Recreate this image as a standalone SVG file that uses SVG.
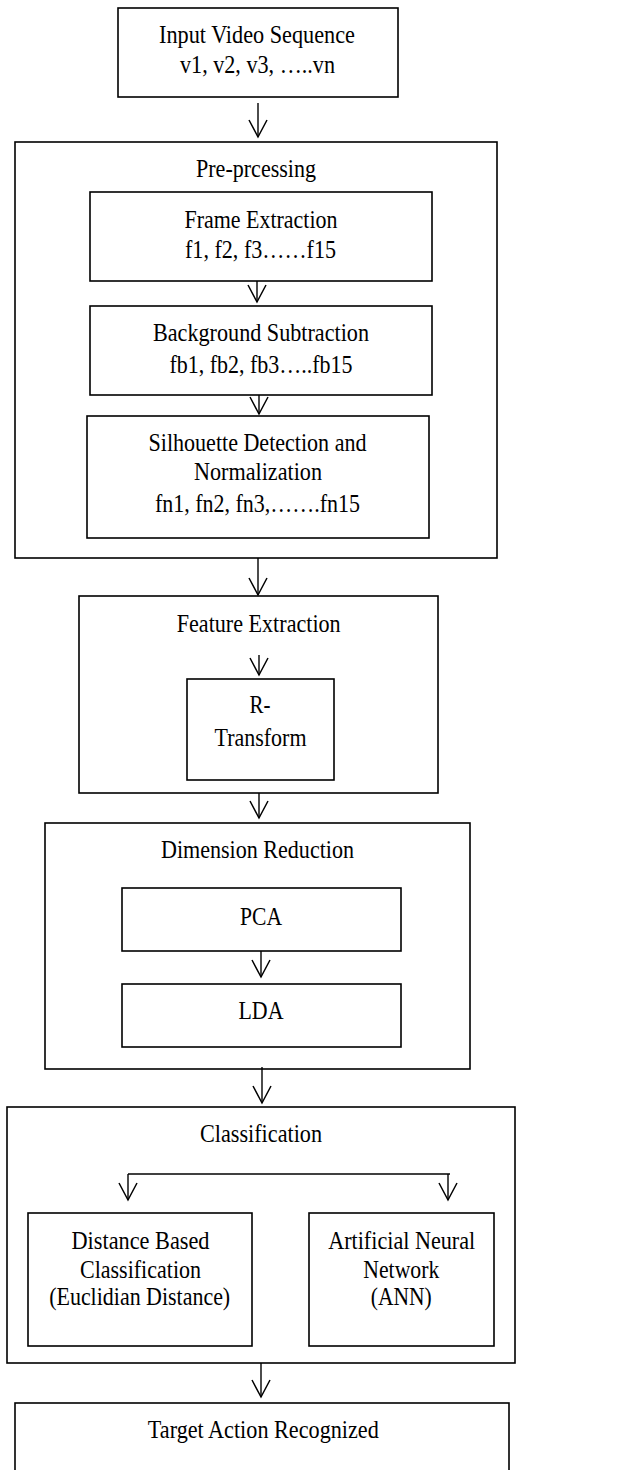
<svg xmlns="http://www.w3.org/2000/svg" width="628" height="1470" viewBox="0 0 628 1470">
<defs>
<marker id="vh" markerUnits="userSpaceOnUse" markerWidth="20" markerHeight="20" viewBox="-18 -10 20 20" refX="0" refY="0" orient="auto" overflow="visible">
<path d="M-17,-9 L0,0 L-17,9" fill="none" stroke="#000" stroke-width="1.5"/>
</marker>
</defs>
<style>
rect{fill:#fff;stroke:#000;stroke-width:1.6}
text{font-family:"Liberation Serif","Times New Roman",serif;font-size:25px;fill:#000;text-anchor:middle}
.c line,.c path{stroke:#000;stroke-width:1.4;fill:none}
</style>
<rect x="0" y="0" width="628" height="1470" style="stroke:none"/>
<g id="input">
<rect x="118" y="8" width="280" height="89"/>
<text x="257" y="43" textLength="196" lengthAdjust="spacingAndGlyphs">Input Video Sequence</text>
<text x="257.5" y="73" textLength="155" lengthAdjust="spacingAndGlyphs">v1, v2, v3, …..vn</text>
</g>
<g id="preprocessing">
<rect x="15" y="142" width="482" height="416"/>
<text x="256" y="177" textLength="120" lengthAdjust="spacingAndGlyphs">Pre-prcessing</text>
</g>
<g id="frame">
<rect x="90" y="192" width="342" height="89"/>
<text x="261" y="228" textLength="153" lengthAdjust="spacingAndGlyphs">Frame Extraction</text>
<text x="260.5" y="258" textLength="151" lengthAdjust="spacingAndGlyphs">f1, f2, f3……f15</text>
</g>
<g id="background">
<rect x="90" y="306" width="342" height="89"/>
<text x="261" y="341" textLength="216" lengthAdjust="spacingAndGlyphs">Background Subtraction</text>
<text x="261" y="373" textLength="183" lengthAdjust="spacingAndGlyphs">fb1, fb2, fb3…..fb15</text>
</g>
<g id="silhouette">
<rect x="87" y="416" width="342" height="122"/>
<text x="257.5" y="451" textLength="218" lengthAdjust="spacingAndGlyphs">Silhouette Detection and</text>
<text x="258" y="480" textLength="128" lengthAdjust="spacingAndGlyphs">Normalization</text>
<text x="257.5" y="512" textLength="205" lengthAdjust="spacingAndGlyphs">fn1, fn2, fn3,…….fn15</text>
</g>
<g id="feature">
<rect x="79" y="596" width="359" height="197"/>
<text x="258.7" y="632" textLength="164" lengthAdjust="spacingAndGlyphs">Feature Extraction</text>
</g>
<g id="rtransform">
<rect x="187" y="679" width="147" height="101"/>
<text x="260" y="713" textLength="21" lengthAdjust="spacingAndGlyphs">R-</text>
<text x="260.5" y="746" textLength="92" lengthAdjust="spacingAndGlyphs">Transform</text>
</g>
<g id="dimension">
<rect x="45" y="823" width="425" height="246"/>
<text x="257.5" y="858" textLength="193" lengthAdjust="spacingAndGlyphs">Dimension Reduction</text>
</g>
<g id="pca">
<rect x="122" y="888" width="279" height="63"/>
<text x="261" y="925" textLength="42" lengthAdjust="spacingAndGlyphs">PCA</text>
</g>
<g id="lda">
<rect x="122" y="984" width="279" height="63"/>
<text x="261" y="1019" textLength="45" lengthAdjust="spacingAndGlyphs">LDA</text>
</g>
<g id="classification">
<rect x="7" y="1107" width="508" height="256"/>
<text x="261" y="1142" textLength="122" lengthAdjust="spacingAndGlyphs">Classification</text>
</g>
<g id="distance">
<rect x="28" y="1213" width="224" height="133"/>
<text x="140.5" y="1249" textLength="138" lengthAdjust="spacingAndGlyphs">Distance Based</text>
<text x="140.5" y="1278" textLength="121" lengthAdjust="spacingAndGlyphs">Classification</text>
<text x="139.7" y="1305" textLength="181" lengthAdjust="spacingAndGlyphs">(Euclidian Distance)</text>
</g>
<g id="ann">
<rect x="309" y="1213" width="185" height="133"/>
<text x="401.7" y="1249" textLength="147" lengthAdjust="spacingAndGlyphs">Artificial Neural</text>
<text x="401.3" y="1278" textLength="76" lengthAdjust="spacingAndGlyphs">Network</text>
<text x="401.3" y="1305" textLength="61" lengthAdjust="spacingAndGlyphs">(ANN)</text>
</g>
<g id="target">
<rect x="15" y="1403" width="494" height="80"/>
<text x="263.3" y="1438" textLength="231" lengthAdjust="spacingAndGlyphs">Target Action Recognized</text>
</g>
<g id="connectors" class="c">
<line x1="258" y1="103" x2="258" y2="137" marker-end="url(#vh)"/>
<line x1="257" y1="281" x2="257" y2="302" marker-end="url(#vh)"/>
<line x1="259" y1="395" x2="259" y2="414" marker-end="url(#vh)"/>
<line x1="258" y1="558" x2="258" y2="595" marker-end="url(#vh)"/>
<line x1="259" y1="655" x2="259" y2="675" marker-end="url(#vh)"/>
<line x1="259" y1="793" x2="259" y2="818" marker-end="url(#vh)"/>
<line x1="261" y1="951" x2="261" y2="977" marker-end="url(#vh)"/>
<line x1="262" y1="1067" x2="262" y2="1103" marker-end="url(#vh)"/>
<line x1="128" y1="1174" x2="450" y2="1174"/>
<line x1="128" y1="1174" x2="128" y2="1200" marker-end="url(#vh)"/>
<line x1="448" y1="1174" x2="448" y2="1200" marker-end="url(#vh)"/>
<line x1="261" y1="1363" x2="261" y2="1397" marker-end="url(#vh)"/>
</g>
</svg>
